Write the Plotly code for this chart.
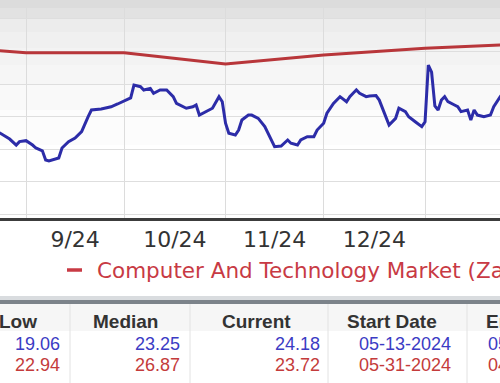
import plotly.graph_objects as go

# ---------------- data ----------------
blue_dates = [
    "2024-08-23", "2024-08-24", "2024-08-27", "2024-08-29", "2024-08-30", "2024-09-01", "2024-09-03",
    "2024-09-04", "2024-09-06", "2024-09-07", "2024-09-08", "2024-09-11", "2024-09-12",
    "2024-09-14", "2024-09-16", "2024-09-18", "2024-09-20", "2024-09-21", "2024-09-24",
    "2024-09-27", "2024-09-29", "2024-10-01", "2024-10-03", "2024-10-04", "2024-10-06",
    "2024-10-07", "2024-10-09", "2024-10-10", "2024-10-12", "2024-10-14", "2024-10-16",
    "2024-10-17", "2024-10-20", "2024-10-22", "2024-10-23", "2024-10-24", "2024-10-26",
    "2024-10-28", "2024-10-30", "2024-10-31", "2024-11-01", "2024-11-02", "2024-11-04",
    "2024-11-05", "2024-11-06", "2024-11-08", "2024-11-09", "2024-11-11", "2024-11-13",
    "2024-11-15", "2024-11-16", "2024-11-18", "2024-11-20", "2024-11-21", "2024-11-23",
    "2024-11-24", "2024-11-26", "2024-11-28", "2024-11-29", "2024-12-01", "2024-12-02",
    "2024-12-04", "2024-12-05", "2024-12-06", "2024-12-08", "2024-12-09", "2024-12-10",
    "2024-12-11", "2024-12-12", "2024-12-14", "2024-12-15", "2024-12-17", "2024-12-18",
    "2024-12-20", "2024-12-21", "2024-12-23", "2024-12-24", "2024-12-26", "2024-12-27",
    "2024-12-29", "2024-12-31", "2025-01-01", "2025-01-02", "2025-01-03", "2025-01-04",
    "2025-01-05", "2025-01-06", "2025-01-07", "2025-01-08", "2025-01-10", "2025-01-11",
    "2025-01-12", "2025-01-14", "2025-01-15", "2025-01-16", "2025-01-17", "2025-01-19",
    "2025-01-21", "2025-01-22", "2025-01-24", "2025-01-25",
]
blue_pe = [
    23.10, 23.00, 22.63, 22.26, 22.47, 22.53, 22.26,
    22.08, 21.91, 21.34, 21.28, 21.47, 22.08,
    22.47, 22.69, 23.08, 24.00, 24.41, 24.47,
    24.61, 24.78, 24.98, 25.15, 25.94, 25.84,
    25.64, 25.74, 25.44, 25.64, 25.64, 25.23,
    24.82, 24.52, 24.61, 24.72, 24.10, 24.31,
    24.52, 25.23, 24.92, 23.60, 22.98, 22.88,
    23.18, 23.80, 24.10, 24.10, 23.90, 23.39,
    22.57, 22.16, 22.20, 22.57, 22.37, 22.26,
    22.57, 22.77, 22.77, 23.18, 23.60, 24.21,
    24.82, 25.02, 25.23, 24.92, 25.23, 25.44,
    25.64, 25.44, 25.23, 25.27, 25.30, 25.02,
    24.00, 23.49, 23.90, 24.52, 24.31, 24.00,
    23.69, 23.39, 23.69, 27.17, 26.74, 24.66,
    24.41, 25.02, 25.23, 24.92, 24.72, 24.61,
    24.31, 24.41, 23.80, 24.41, 24.10, 24.00,
    24.10, 24.61, 25.23, 25.52,
]

red_dates = ["2024-08-01", "2024-09-01", "2024-10-01", "2024-11-01",
             "2024-12-01", "2025-01-01", "2025-02-01"]
red_pe = [28.40, 27.93, 27.93, 27.23, 27.79, 28.20, 28.47]

x_range = ["2024-08-24 01:00", "2025-01-23 22:00"]
y_range = [17.785, 31.16]

legend_label = "Computer And Technology Market (Zacks Sector)"

table_headers = ["Low", "Median", "Current", "Start Date", "End Date"]
blue_stats = ["19.06", "23.25", "24.18", "05-13-2024", "05-12-2025"]
red_stats = ["22.94", "26.87", "23.72", "05-31-2024", "04-30-2025"]

# ---------------- styling ----------------
W, H = 500, 383
PLOT_BOTTOM = 218
BLUE = "#2c2ca8"
RED = "#b8363a"


def py(p):
    """pixel row -> paper y (plot area spans pixel rows 0..PLOT_BOTTOM)"""
    return (PLOT_BOTTOM - p) / PLOT_BOTTOM


def px(p):
    return p / W


fig = go.Figure()
fig.add_trace(go.Scatter(x=red_dates, y=red_pe, mode="lines",
                         line=dict(color=RED, width=3), showlegend=False,
                         hoverinfo="skip"))
fig.add_trace(go.Scatter(x=blue_dates, y=blue_pe, mode="lines",
                         line=dict(color=BLUE, width=3), showlegend=False,
                         hoverinfo="skip"))

shapes = []
# plot background gradient (top grey band fading to white)
bands = [(0, 8, "#dcdcdc"), (8, 19, "#e2e2e2"), (19, 32, "#ececec"),
         (32, 48, "#f0f0f0"), (48, 65, "#f3f3f3"), (65, 85, "#f6f6f6"),
         (85, 110, "#f9f9f9"), (110, 145, "#fcfcfc")]
for a, b, c in bands:
    shapes.append(dict(type="rect", xref="paper", yref="paper", x0=0, x1=1,
                       y0=py(b), y1=py(a), fillcolor=c, line=dict(width=0),
                       layer="below"))
# legend swatch
shapes.append(dict(type="line", xref="paper", yref="paper", x0=px(67), x1=px(82),
                   y0=py(270), y1=py(270), line=dict(color="#c83a44", width=3.5)))
# separator bar above the table
shapes.append(dict(type="rect", xref="paper", yref="paper", x0=0, x1=1,
                   y0=py(300), y1=py(296), fillcolor="#d9dcdf", line=dict(width=0)))
shapes.append(dict(type="rect", xref="paper", yref="paper", x0=0, x1=1,
                   y0=py(304), y1=py(300), fillcolor="#7c838a", line=dict(width=0)))
# table header background
shapes.append(dict(type="rect", xref="paper", yref="paper", x0=0, x1=1,
                   y0=py(331), y1=py(304), fillcolor="#f6f6f6", line=dict(width=0)))
# table column separators
for sx in [70, 190, 328, 467]:
    shapes.append(dict(type="line", xref="paper", yref="paper", x0=px(sx), x1=px(sx),
                       y0=py(383), y1=py(304), line=dict(color="#e2e2e2", width=1)))

annotations = [dict(x=px(95), y=py(270), xref="paper", yref="paper",
                    text=legend_label, showarrow=False, xanchor="left", yanchor="middle",
                    font=dict(family="DejaVu Sans", size=21.5, color="#c83a44"))]

header_centers = [18, 125, 256, 392, 527]
value_rights = [62, 182, 322, 453, 582]
for i, h in enumerate(table_headers):
    annotations.append(dict(x=px(header_centers[i]), y=py(321), xref="paper", yref="paper",
                            text="<b>" + h + "</b>", showarrow=False, xanchor="center",
                            yanchor="middle",
                            font=dict(family="Liberation Sans", size=19, color="#333333")))
for row, yy, col in [(blue_stats, 344, "#3b3bc4"), (red_stats, 365, "#c43b3b")]:
    for i, v in enumerate(row):
        annotations.append(dict(x=px(value_rights[i]), y=py(yy), xref="paper", yref="paper",
                                text=v, showarrow=False, xanchor="right", yanchor="middle",
                                font=dict(family="Liberation Sans", size=18, color=col)))

fig.update_layout(
    width=W, height=H,
    margin=dict(l=0, r=0, t=0, b=H - PLOT_BOTTOM, pad=0, autoexpand=False),
    paper_bgcolor="white", plot_bgcolor="white",
    showlegend=False,
    shapes=shapes, annotations=annotations,
    xaxis=dict(type="date", range=x_range, dtick="M1", tick0="2024-01-01",
               ticklabelmode="period", tickformat="%-m/%y",
               showgrid=True, gridcolor="#dcdcdc", gridwidth=1,
               showline=True, linecolor="#3c3c3c", linewidth=3,
               ticks="", zeroline=False, automargin=False,
               tickfont=dict(family="DejaVu Sans", size=22, color="#333333")),
    yaxis=dict(range=y_range, dtick=2, tick0=0, showgrid=True,
               gridcolor="#dedede", gridwidth=1, showticklabels=False,
               zeroline=False, showline=False, ticks="", automargin=False),
)

fig.write_html("out.html", config={"displayModeBar": False},
               post_script="document.body.style.margin='0';document.body.style.overflow='hidden';")
